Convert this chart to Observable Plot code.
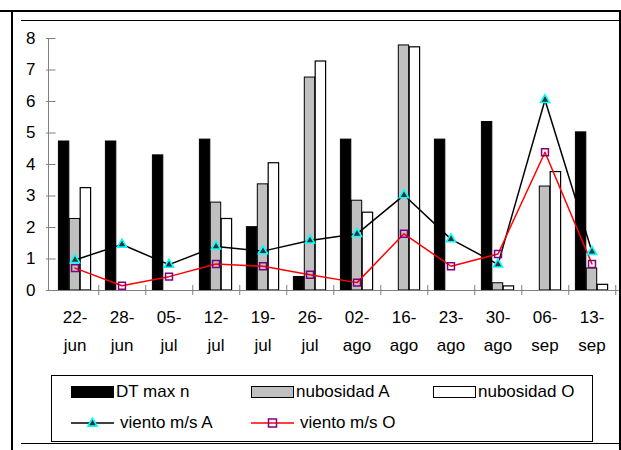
<!DOCTYPE html>
<html>
<head>
<meta charset="utf-8">
<script src="https://cdn.jsdelivr.net/npm/d3@7"></script>
<script src="https://cdn.jsdelivr.net/npm/@observablehq/plot@0.6"></script>
<style>
  body { margin: 0; background: #fff; }
  #page { position: relative; width: 621px; height: 450px; overflow: hidden; background: #fff;
          font-family: "Liberation Sans", Arial, sans-serif; color: #000; }
  #chart { position: absolute; left: 0; top: 0; }
  .rule { position: absolute; background: #000; }
  #legend { position: absolute; left: 51px; top: 375px; width: 542px; height: 67px;
            box-sizing: border-box; border: 1px solid #000; }
  .item { position: absolute; font-size: 17px; line-height: 20px; white-space: nowrap; }
  .item svg { position: absolute; top: 0; left: 0; overflow: visible; }
</style>
</head>
<body>
<div id="page">
  <div id="chart"></div>
  <div class="rule" style="left:0;top:10px;width:621px;height:2px"></div>
  <div class="rule" style="left:11px;top:10px;width:2px;height:440px"></div>
  <div class="rule" style="left:619px;top:10px;width:2px;height:440px"></div>
  <div class="rule" style="left:21px;top:20px;width:598px;height:1px"></div>
  <div class="rule" style="left:21px;top:443px;width:598px;height:1px"></div>
  <div id="legend"></div>
</div>
<script>
// Fechas de muestreo
const fechas = ["22-jun","28-jun","05-jul","12-jul","19-jul","26-jul","02-ago","16-ago","23-ago","30-ago","06-sep","13-sep"];
// Series
const dtMaxN     = [4.73, 4.73, 4.29, 4.79, 2.01, 0.43, 4.79, 0,    4.79, 5.35, 0,    5.02];
const nubosidadA = [2.27, 0,    0,    2.79, 3.37, 6.76, 2.85, 7.78, 0,    0.23, 3.30, 0.70];
const nubosidadO = [3.25, 0,    0,    2.27, 4.04, 7.27, 2.47, 7.72, 0,    0.13, 3.76, 0.18];
const vientoA    = [0.97, 1.46, 0.82, 1.40, 1.25, 1.59, 1.80, 3.03, 1.63, 0.83, 6.05, 1.23];
const vientoO    = [0.71, 0.15, 0.44, 0.84, 0.77, 0.50, 0.25, 1.80, 0.77, 1.16, 4.39, 0.84];
const yTicks     = [0, 1, 2, 3, 4, 5, 6, 7, 8];
const seriesNames = ["DT max n", "nubosidad A", "nubosidad O", "viento m/s A", "viento m/s O"];

const rows = fechas.map((fecha, i) => ({
  fecha, dt: dtMaxN[i], nA: nubosidadA[i], nO: nubosidadO[i], vA: vientoA[i], vO: vientoO[i]
}));

const W = 621, H = 365;
const mL = 48, mR = 3, mT = 38, mB = 75;
const bw = (W - mL - mR) / fechas.length;   // ancho de cada categoría
const barW = 10.9;                           // ancho de cada barra
const g0 = (bw - 3 * barW) / 2;               // margen del grupo dentro de la categoría
const slot = k => ({ insetLeft: g0 + k * barW, insetRight: bw - g0 - (k + 1) * barW });

const gray = "#808080";

const chart = Plot.plot({
  width: W, height: H,
  marginLeft: mL, marginRight: mR, marginTop: mT, marginBottom: mB,
  style: { fontFamily: "'Liberation Sans', Arial, sans-serif", fontSize: "17px", color: "#000", background: "transparent" },
  x: { domain: fechas, padding: 0 },
  y: { domain: [0, 8] },
  marks: [
    Plot.barY(rows.filter(d => d.dt > 0), { x: "fecha", y: "dt", fill: "#000", stroke: "#000", strokeWidth: 1, ...slot(0) }),
    Plot.barY(rows.filter(d => d.nA > 0), { x: "fecha", y: "nA", fill: "#C0C0C0", stroke: "#000", strokeWidth: 1, ...slot(1) }),
    Plot.barY(rows.filter(d => d.nO > 0), { x: "fecha", y: "nO", fill: "#fff", stroke: "#000", strokeWidth: 1.2, ...slot(2) }),
    Plot.frame({ anchor: "left", stroke: gray }),
    Plot.frame({ anchor: "bottom", stroke: gray }),
    // marcas de graduación que cruzan los ejes
    Plot.tickY(yTicks, { y: d => d, x: () => fechas[0], stroke: gray, insetLeft: -5, insetRight: bw - 5 }),
    Plot.ruleX(fechas, { x: d => d, y1: 0, y2: 0, dx: bw / 2, insetTop: -5, insetBottom: -5, stroke: gray }),
    Plot.axisY({ ticks: yTicks, tickSize: 0, tickPadding: 13, fontSize: 17, label: null }),
    Plot.axisX({ tickSize: 0, tickPadding: 12, lineHeight: 1.66, fontSize: 17, label: null,
                 tickFormat: d => d.replace("-", "-\n") }),
    Plot.line(rows, { x: "fecha", y: "vA", stroke: "#000", strokeWidth: 1.5 }),
    Plot.line(rows, { x: "fecha", y: "vO", stroke: "#FF0000", strokeWidth: 1.5 }),
    Plot.dot(rows, { x: "fecha", y: "vA", symbol: "triangle", r: 3.4, fill: "#333", stroke: "#00FFFF", strokeWidth: 1.6 }),
    Plot.dot(rows, { x: "fecha", y: "vO", symbol: "square", r: 3.9, fill: "none", stroke: "#800080", strokeWidth: 1.5 })
  ]
});
document.getElementById("chart").appendChild(chart);

// Leyenda
const legend = document.getElementById("legend");
const items = [
  { name: seriesNames[0], left: 19,  top: 6,  kind: "bar",  fill: "#000" },
  { name: seriesNames[1], left: 199, top: 6,  kind: "bar",  fill: "#C0C0C0" },
  { name: seriesNames[2], left: 381, top: 6,  kind: "bar",  fill: "#fff" },
  { name: seriesNames[3], left: 19,  top: 37, kind: "tri",  line: "#000" },
  { name: seriesNames[4], left: 199, top: 37, kind: "sq",   line: "#FF0000" }
];
for (const it of items) {
  const div = document.createElement("div");
  div.className = "item";
  div.style.left = it.left + "px";
  div.style.top = it.top + "px";
  let sw = "";
  if (it.kind === "bar") {
    sw = `<svg width="44" height="20"><rect x="0.5" y="4.5" width="42" height="11" fill="${it.fill}" stroke="#000" stroke-width="1"/></svg>`;
  } else if (it.kind === "tri") {
    sw = `<svg width="44" height="20"><line x1="0" x2="43" y1="10" y2="10" stroke="${it.line}" stroke-width="1.5"/>` +
         `<path transform="translate(21.5,10.5)" d="${d3.symbol(d3.symbolTriangle, Math.PI * 3.4 * 3.4)()}" fill="#333" stroke="#00FFFF" stroke-width="1.6"/></svg>`;
  } else {
    sw = `<svg width="44" height="20"><line x1="0" x2="43" y1="10" y2="10" stroke="${it.line}" stroke-width="1.5"/>` +
         `<rect x="17.5" y="6" width="8" height="8" fill="none" stroke="#800080" stroke-width="1.5"/></svg>`;
  }
  const textLeft = it.kind === "bar" ? 45 : 49;
  div.innerHTML = sw + `<span style="position:absolute;left:${textLeft}px;top:0">${it.name}</span>`;
  legend.appendChild(div);
}
</script>
</body>
</html>
